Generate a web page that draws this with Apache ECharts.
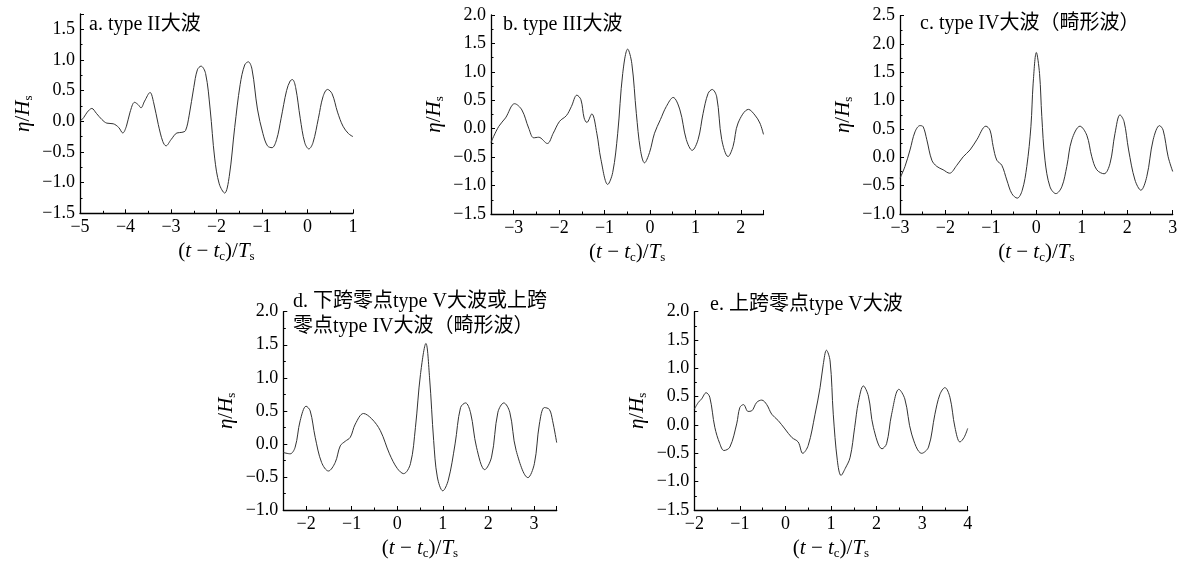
<!DOCTYPE html>
<html><head><meta charset="utf-8">
<script src="https://cdn.jsdelivr.net/npm/echarts@6/dist/echarts.min.js"></script>
<style>html,body{margin:0;padding:0;background:#fff}#c{width:1182px;height:563px}</style>
</head><body><div id="c"></div>
<script>
// ---- data ----
const aX = [-5.0,-4.92,-4.84,-4.74,-4.64,-4.52,-4.41,-4.27,-4.15,-4.06,-3.98,-3.90,-3.80,-3.72,-3.66,-3.58,-3.46,-3.38,-3.28,-3.18,-3.11,-3.00,-2.87,-2.76,-2.68,-2.60,-2.50,-2.42,-2.34,-2.24,-2.14,-2.04,-1.94,-1.82,-1.72,-1.60,-1.48,-1.38,-1.30,-1.22,-1.10,-0.98,-0.88,-0.78,-0.68,-0.58,-0.46,-0.38,-0.33,-0.26,-0.16,-0.06,0.03,0.12,0.24,0.34,0.44,0.54,0.66,0.78,0.90,1.00];
const aY = [0.0,0.06,0.15,0.21,0.13,0.03,-0.03,-0.04,-0.10,-0.19,-0.08,0.15,0.31,0.27,0.22,0.33,0.47,0.30,-0.05,-0.33,-0.40,-0.30,-0.19,-0.18,-0.15,0.10,0.55,0.84,0.90,0.78,0.20,-0.60,-1.02,-1.17,-0.90,-0.10,0.60,0.92,0.97,0.85,0.20,-0.20,-0.40,-0.43,-0.30,0.05,0.50,0.66,0.68,0.55,0.05,-0.35,-0.45,-0.35,0.05,0.40,0.52,0.45,0.15,-0.08,-0.20,-0.25];

const bX = [-3.5,-3.33,-3.18,-2.98,-2.82,-2.67,-2.56,-2.45,-2.26,-2.13,-1.99,-1.84,-1.73,-1.61,-1.52,-1.45,-1.39,-1.28,-1.17,-1.08,-0.93,-0.82,-0.71,-0.60,-0.49,-0.40,-0.30,-0.21,-0.12,-0.01,0.10,0.23,0.36,0.51,0.66,0.80,0.93,1.06,1.17,1.28,1.37,1.47,1.58,1.72,1.83,1.94,2.17,2.31,2.42,2.50];
const bY = [-0.24,0.04,0.19,0.44,0.33,0.01,-0.16,-0.15,-0.26,-0.08,0.13,0.23,0.39,0.59,0.51,0.19,0.11,0.26,-0.08,-0.54,-0.98,-0.77,-0.08,0.97,1.40,1.15,0.27,-0.37,-0.60,-0.42,-0.08,0.16,0.39,0.55,0.33,-0.19,-0.38,-0.19,0.27,0.62,0.69,0.56,-0.19,-0.49,-0.31,0.10,0.34,0.24,0.10,-0.10];

const cX = [-3.0,-2.89,-2.78,-2.67,-2.56,-2.49,-2.41,-2.30,-2.19,-2.05,-1.91,-1.75,-1.61,-1.46,-1.31,-1.11,-1.02,-0.95,-0.87,-0.76,-0.65,-0.54,-0.42,-0.31,-0.21,-0.12,-0.07,0.0,0.07,0.12,0.19,0.30,0.43,0.56,0.67,0.78,0.96,1.11,1.22,1.33,1.49,1.62,1.73,1.84,1.93,2.03,2.17,2.30,2.43,2.57,2.71,2.79,2.90,3.0];
const cY = [-0.37,-0.16,0.13,0.45,0.56,0.54,0.31,-0.05,-0.16,-0.22,-0.28,-0.14,0.01,0.13,0.31,0.55,0.48,0.19,-0.05,-0.14,-0.40,-0.64,-0.72,-0.58,-0.16,0.54,1.31,1.85,1.48,0.72,-0.05,-0.52,-0.64,-0.52,-0.16,0.31,0.55,0.39,0.01,-0.22,-0.29,-0.11,0.42,0.75,0.63,0.13,-0.40,-0.58,-0.34,0.31,0.56,0.48,0.01,-0.25];

const dX = [-2.5,-2.35,-2.24,-2.13,-2.0,-1.91,-1.80,-1.66,-1.51,-1.36,-1.25,-1.14,-1.03,-0.92,-0.74,-0.56,-0.37,-0.17,0.0,0.14,0.29,0.40,0.51,0.63,0.71,0.80,0.88,1.0,1.12,1.27,1.39,1.50,1.61,1.74,1.92,2.07,2.21,2.34,2.47,2.61,2.87,3.01,3.12,3.23,3.34,3.41,3.5];
const dY = [-0.13,-0.15,-0.05,0.35,0.57,0.50,0.10,-0.28,-0.41,-0.28,-0.03,0.04,0.10,0.30,0.46,0.38,0.20,-0.15,-0.37,-0.45,-0.30,0.25,1.05,1.52,1.0,0.05,-0.50,-0.71,-0.55,0.0,0.55,0.62,0.47,-0.05,-0.39,-0.20,0.48,0.62,0.48,-0.10,-0.51,-0.30,0.30,0.55,0.52,0.35,0.02];

const eX = [-2.0,-1.91,-1.84,-1.74,-1.66,-1.55,-1.44,-1.35,-1.22,-1.07,-1.0,-0.92,-0.82,-0.74,-0.63,-0.52,-0.41,-0.30,-0.16,-0.01,0.14,0.28,0.38,0.50,0.65,0.76,0.83,0.90,0.98,1.05,1.14,1.22,1.31,1.42,1.52,1.60,1.71,1.82,1.93,2.12,2.22,2.33,2.49,2.62,2.77,2.99,3.14,3.28,3.39,3.50,3.61,3.72,3.83,3.92,4.0];
const eY = [0.28,0.40,0.46,0.57,0.49,-0.04,-0.33,-0.45,-0.39,0.02,0.31,0.36,0.24,0.25,0.40,0.44,0.36,0.19,0.08,-0.07,-0.22,-0.30,-0.50,-0.36,0.19,0.66,1.07,1.32,1.13,0.19,-0.63,-0.89,-0.77,-0.57,-0.04,0.40,0.69,0.51,-0.04,-0.42,-0.33,0.19,0.63,0.46,-0.16,-0.50,-0.39,0.19,0.54,0.66,0.49,-0.04,-0.30,-0.22,-0.06];

const titles = ['a. type II大波', 'b. type III大波', 'c. type IV大波（畸形波）', 'd. 下跨零点type V大波或上跨\n零点type IV大波（畸形波）', 'e. 上跨零点type V大波'];
const xRanges = [[-5, 1], [-3.5, 2.5], [-3, 3], [-2.5, 3.5], [-2, 4]];
const yRanges = [[-1.5, 1.75], [-1.5, 2.0], [-1.0, 2.5], [-1.0, 2.0], [-1.5, 2.0]];
const xStep = 1, yStep = 0.5;
const xName = '{n|(}{i|t}{n| − }{i|t}{sub|c}{n|)/}{i|T}{sub|s}';
const yName = '{i|η}{n|/}{i|H}{sub|s}';

// ---- layout ----
const series = [[aX, aY], [bX, bY], [cX, cY], [dX, dY], [eX, eY]];
const grids = [
  {left: 80, top: 14, width: 273, height: 199.3},
  {left: 491, top: 15, width: 272.5, height: 199},
  {left: 900, top: 15.7, width: 272.7, height: 198.3},
  {left: 283.3, top: 311.7, width: 273.4, height: 198.3},
  {left: 694.3, top: 311.7, width: 273.4, height: 198.3}
];
const titlePos = [[89, 25, 'middle'], [503, 25, 'middle'], [920, 24, 'middle'], [293, 289, 'top'], [710, 305, 'middle']];
const SERIF = "'Liberation Serif','Noto Sans CJK SC',serif";
const rich = {
  i: {fontFamily: SERIF, fontSize: 21, fontStyle: 'italic', color: '#000', lineHeight: 24},
  n: {fontFamily: SERIF, fontSize: 21, color: '#000', lineHeight: 24},
  sub: {fontFamily: SERIF, fontSize: 13, color: '#000', lineHeight: 13, verticalAlign: 'bottom'}
};
const M = '\u2212';
function near(v, s) { return Math.abs(v / s - Math.round(v / s)) < 1e-6; }
function fmtX(v) { if (!near(v, xStep)) return ''; const r = Math.round(v); return (r < 0 ? M : '') + Math.abs(r); }
function fmtY(v) { if (!near(v, yStep)) return ''; return (v < -1e-9 ? M : '') + Math.abs(v).toFixed(1); }

const axisLine = {show: true, onZero: false, lineStyle: {color: '#000', width: 1.3}};
const option = {
  animation: false,
  backgroundColor: '#fff',
  grid: grids,
  xAxis: grids.map((g, i) => ({
    gridIndex: i, type: 'value', min: xRanges[i][0], max: xRanges[i][1],
    minInterval: xStep, maxInterval: xStep, splitNumber: 6,
    axisLine, splitLine: {show: false},
    axisTick: {show: true, inside: true, length: 4, lineStyle: {color: '#000', width: 1}},
    minorTick: {show: true, splitNumber: 2, length: 2.5, lineStyle: {color: '#000', width: 1}},
    axisLabel: {color: '#000', fontFamily: SERIF, fontSize: 18, margin: 5, formatter: fmtX, showMinLabel: true, showMaxLabel: true, hideOverlap: false},
    name: xName, nameLocation: 'middle', nameGap: 26, nameTextStyle: {rich}
  })),
  yAxis: grids.map((g, i) => ({
    gridIndex: i, type: 'value', min: yRanges[i][0], max: yRanges[i][1],
    minInterval: yStep, maxInterval: yStep, splitNumber: 7,
    axisLine, splitLine: {show: false},
    axisTick: {show: true, inside: true, length: 4, lineStyle: {color: '#000', width: 1}},
    minorTick: {show: true, splitNumber: 2, length: 2.5, lineStyle: {color: '#000', width: 1}},
    axisLabel: {color: '#000', fontFamily: SERIF, fontSize: 18, margin: 5, formatter: fmtY, showMinLabel: true, showMaxLabel: true, hideOverlap: false},
    name: yName, nameLocation: 'middle', nameGap: 45, nameRotate: 90, nameTextStyle: {rich}
  })),
  series: series.map((s, i) => ({
    type: 'line', xAxisIndex: i, yAxisIndex: i, showSymbol: false, smooth: 0.35,
    lineStyle: {color: '#333', width: 1}, silent: true,
    data: s[0].map((x, k) => [x, s[1][k]])
  })),
  graphic: titles.map((t, i) => ({
    type: 'text', x: titlePos[i][0], y: titlePos[i][1], silent: true,
    style: {text: t, fill: '#000', font: "20px " + SERIF, verticalAlign: titlePos[i][2], lineHeight: 25}
  }))
};
const chart = echarts.init(document.getElementById('c'), null, {renderer: 'canvas'});
chart.setOption(option);
</script></body></html>
